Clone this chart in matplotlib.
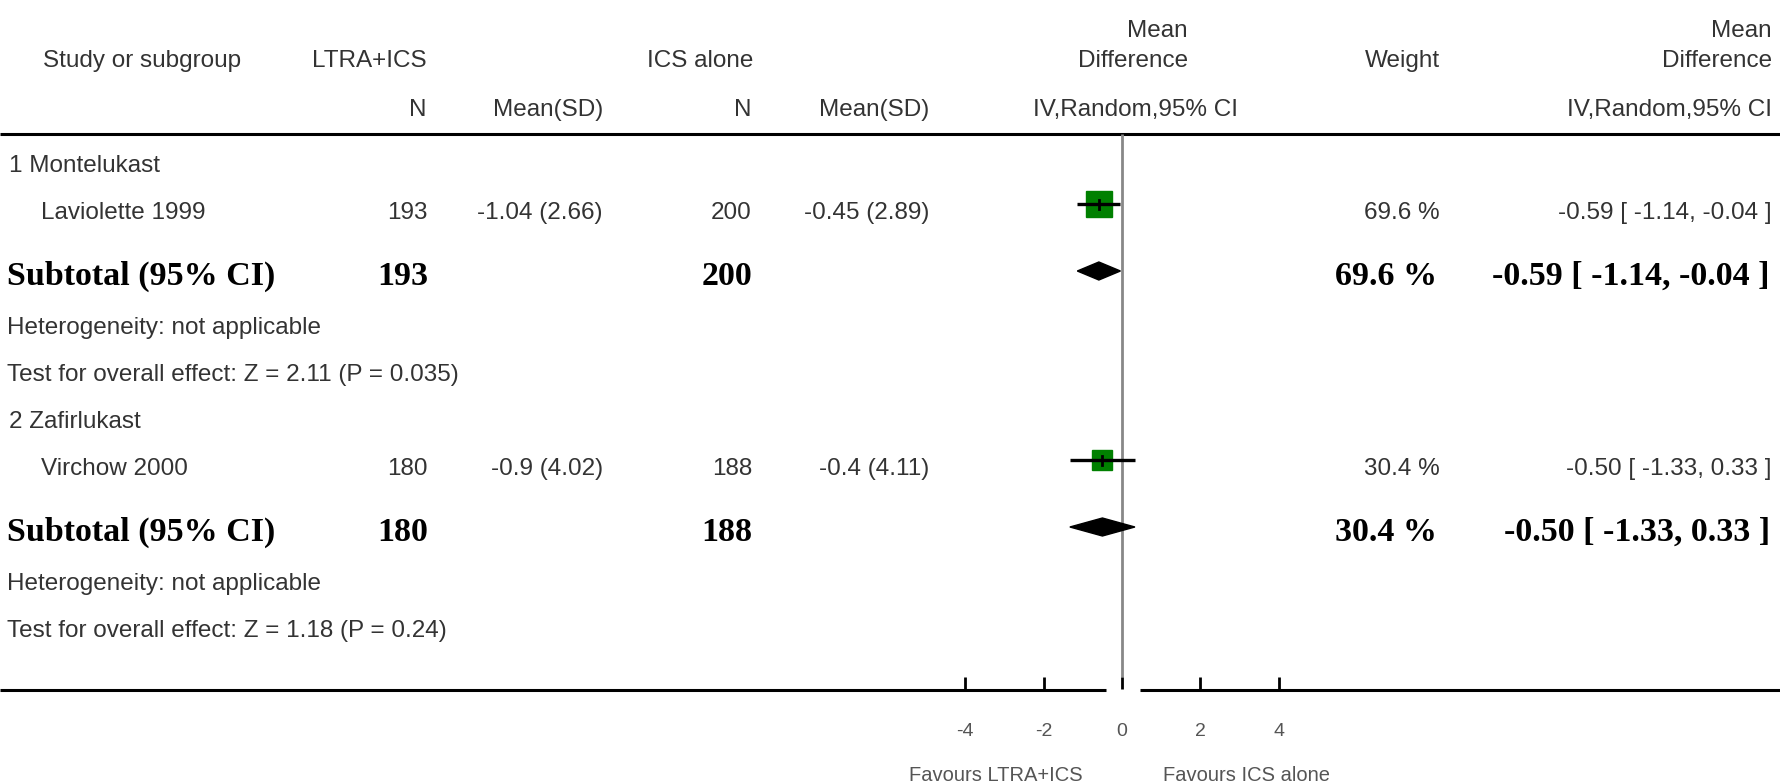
import numpy as np
import matplotlib
matplotlib.use('Agg')
import matplotlib.pyplot as plt

# Forest plot data: LTRA+ICS vs ICS alone
groups = ['1 Montelukast', '2 Zafirlukast']
studies = ['Laviolette 1999', 'Virchow 2000']
n_ltra = [193, 180]
mean_ltra = [-1.04, -0.9]
sd_ltra = [2.66, 4.02]
n_ics = [200, 188]
mean_ics = [-0.45, -0.4]
sd_ics = [2.89, 4.11]
md = [-0.59, -0.50]
ci_lo = [-1.14, -1.33]
ci_hi = [-0.04, 0.33]
weights = [69.6, 30.4]
heterogeneity = ['not applicable', 'not applicable']
z_values = [2.11, 1.18]
p_values = ['0.035', '0.24']
axis_ticks = [-4, -2, 0, 2, 4]

# Figure geometry (pixels)
W, H = 1781, 782
ZERO_PX = 1122        # x pixel of MD = 0
PX_PER_UNIT = 39.2    # pixels per MD unit

fig = plt.figure(figsize=(W / 100, H / 100), dpi=100)

# text layer in pixel coordinates
axt = fig.add_axes([0, 0, 1, 1])
axt.set_xlim(0, W)
axt.set_ylim(H, 0)
axt.axis('off')

# forest layer in mean-difference units
ax = fig.add_axes([0, 0, 1, 1])
ax.set_xlim(-ZERO_PX / PX_PER_UNIT, (W - ZERO_PX) / PX_PER_UNIT)
ax.set_ylim(H, 0)
ax.axis('off')

REG = dict(family='Liberation Sans', fontsize=17.5, color='#333333')
BOLD = dict(family='Liberation Serif', fontsize=24.5, fontweight='bold', color='black')

# headers
axt.text(43, 67, 'Study or subgroup', ha='left', **REG)
axt.text(427, 67, 'LTRA+ICS', ha='right', **REG)
axt.text(753, 67, 'ICS alone', ha='right', **REG)
axt.text(1188, 37, 'Mean', ha='right', **REG)
axt.text(1188, 67, 'Difference', ha='right', **REG)
axt.text(1440, 67, 'Weight', ha='right', **REG)
axt.text(1772, 37, 'Mean', ha='right', **REG)
axt.text(1772, 67, 'Difference', ha='right', **REG)
axt.text(427, 116, 'N', ha='right', **REG)
axt.text(603, 116, 'Mean(SD)', ha='right', **REG)
axt.text(752, 116, 'N', ha='right', **REG)
axt.text(929, 116, 'Mean(SD)', ha='right', **REG)
axt.text(1136, 116, 'IV,Random,95% CI', ha='center', **REG)
axt.text(1772, 116, 'IV,Random,95% CI', ha='right', **REG)

# horizontal rules
axt.plot([0, W], [133.5, 133.5], color='black', lw=2.2, solid_capstyle='butt')
axt.plot([0, 1106], [689.5, 689.5], color='black', lw=2.2, solid_capstyle='butt')
axt.plot([1140, W], [689.5, 689.5], color='black', lw=2.2, solid_capstyle='butt')

# zero line
ax.plot([0, 0], [133.5, 677], color='#888888', lw=2.0, solid_capstyle='butt')

# each subgroup block is 256 px tall
block_top = [163, 419]
for i in range(len(studies)):
    top = block_top[i]
    y_study = top + 41     # marker row
    y_sub = top + 108      # diamond row

    axt.text(9, top + 9, groups[i], ha='left', **REG)

    # study row
    axt.text(41, y_study + 15, studies[i], ha='left', **REG)
    axt.text(428, y_study + 15, str(n_ltra[i]), ha='right', **REG)
    axt.text(603, y_study + 15, f'{mean_ltra[i]:g} ({sd_ltra[i]:.2f})', ha='right', **REG)
    axt.text(752, y_study + 15, str(n_ics[i]), ha='right', **REG)
    axt.text(929, y_study + 15, f'{mean_ics[i]:g} ({sd_ics[i]:.2f})', ha='right', **REG)
    axt.text(1440, y_study + 15, f'{weights[i]:.1f} %', ha='right', **REG)
    axt.text(1772, y_study + 15, f'{md[i]:.2f} [ {ci_lo[i]:.2f}, {ci_hi[i]:.2f} ]', ha='right', **REG)

    ms = 6 + 1.45 * np.sqrt(weights[i])
    ax.plot(md[i], y_study, marker='s', ms=ms, color='#008000', mec='#008000', zorder=3)
    ax.plot([ci_lo[i], ci_hi[i]], [y_study, y_study], color='black', lw=2.4, zorder=4,
            solid_capstyle='butt')
    ax.plot([md[i], md[i]], [y_study - 4.5, y_study + 4.5], color='black', lw=2.0, zorder=4)

    # subtotal row
    axt.text(7, y_sub + 14, 'Subtotal (95% CI)', ha='left', **BOLD)
    axt.text(428, y_sub + 14, str(n_ltra[i]), ha='right', **BOLD)
    axt.text(752, y_sub + 14, str(n_ics[i]), ha='right', **BOLD)
    axt.text(1437, y_sub + 14, f'{weights[i]:.1f} %', ha='right', **BOLD)
    axt.text(1770, y_sub + 14, f'{md[i]:.2f} [ {ci_lo[i]:.2f}, {ci_hi[i]:.2f} ]', ha='right', **BOLD)
    ax.fill([ci_lo[i], md[i], ci_hi[i], md[i]], [y_sub, y_sub - 9, y_sub, y_sub + 9],
            color='black', zorder=4)

    axt.text(7, top + 171, f'Heterogeneity: {heterogeneity[i]}', ha='left', **REG)
    axt.text(7, top + 218, f'Test for overall effect: Z = {z_values[i]:.2f} (P = {p_values[i]})',
             ha='left', **REG)

# axis ticks and labels
for t in axis_ticks:
    ax.plot([t, t], [677, 689], color='black', lw=2.0, solid_capstyle='butt')
    ax.text(t, 736, f'{t}', ha='center', family='Liberation Sans', fontsize=14, color='#555555')

axt.text(1083, 781, 'Favours LTRA+ICS', ha='right', family='Liberation Sans', fontsize=14.5,
         color='#555555')
axt.text(1163, 781, 'Favours ICS alone', ha='left', family='Liberation Sans', fontsize=14.5,
         color='#555555')

plt.savefig('out.png', dpi=100)
